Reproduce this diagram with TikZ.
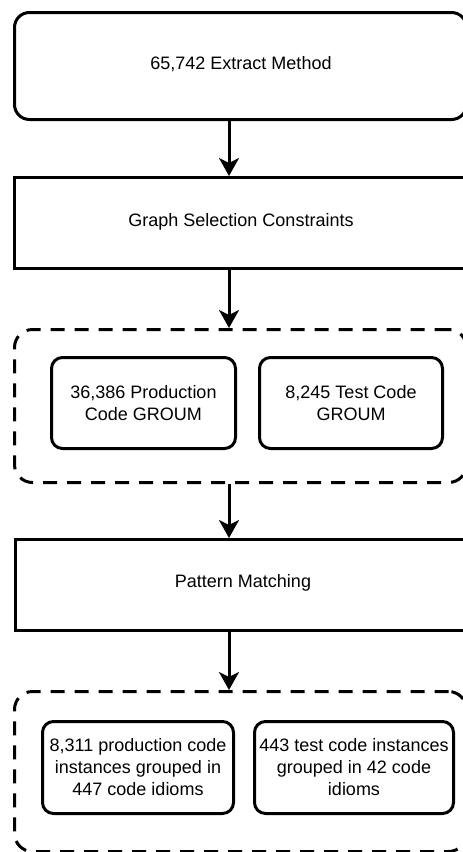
\documentclass[tikz,border=0pt]{standalone}
\usepackage{fontspec}
\setmainfont{Liberation Sans}
\usetikzlibrary{arrows.meta}
\begin{document}
\begin{tikzpicture}[x=1pt,y=-1pt,
  every node/.style={font=\fontsize{18}{22}\selectfont, inner sep=0pt},
  bigbox/.style={draw=black, line width=3pt, fill=white, anchor=north west, minimum width=452pt},
  roundbig/.style={bigbox, rounded corners=15pt},
  group/.style={draw=black, line width=3pt, dash pattern=on 14pt off 10pt, rounded corners=18pt, anchor=north west, minimum width=452pt},
  inbox/.style={draw=black, line width=3pt, rounded corners=11pt, anchor=north west, align=center},
  arr/.style={line width=3pt, -{Stealth[length=18pt,width=20pt,inset=5pt]}}
]
\useasboundingbox (0,0) rectangle (463,852);
\clip (0,0) rectangle (463,852);
\fill[white] (0,0) rectangle (463,852);

\node[roundbig, minimum height=107pt] (b1) at (13,11) {};
\node at (241,64) {65,742 Extract Method};

\node[bigbox, minimum height=91pt] (b2) at (13,176) {};
\node at (241,222) {Graph Selection Constraints};

\node[group, minimum height=153pt] (g1) at (13,328) {};
\node[inbox, minimum width=184pt, minimum height=91pt] (pa) at (50,356) {36,386 Production\\Code GROUM};
\node[inbox, minimum width=183pt, minimum height=91pt] (ta) at (258,356) {8,245 Test Code\\GROUM};

\node[bigbox, minimum height=91pt] (b3) at (14,538) {};
\node at (243,583) {Pattern Matching};

\node[group, minimum height=160pt] (g2) at (13,690) {};
\node[inbox, minimum width=191pt, minimum height=92pt] (pc) at (41,720) {8,311 production code\\instances grouped in\\447 code idioms};
\node[inbox, minimum width=199pt, minimum height=92pt] (tc) at (253,720) {443 test code instances\\grouped in 42 code\\idioms};

\coordinate (ax) at (229,0);
\draw[arr] (b1.south -| ax) -- (b2.north -| ax);
\draw[arr] (b2.south -| ax) -- (g1.north -| ax);
\draw[arr] (g1.south -| ax) -- (b3.north -| ax);
\draw[arr] (b3.south -| ax) -- (g2.north -| ax);
\end{tikzpicture}
\end{document}
